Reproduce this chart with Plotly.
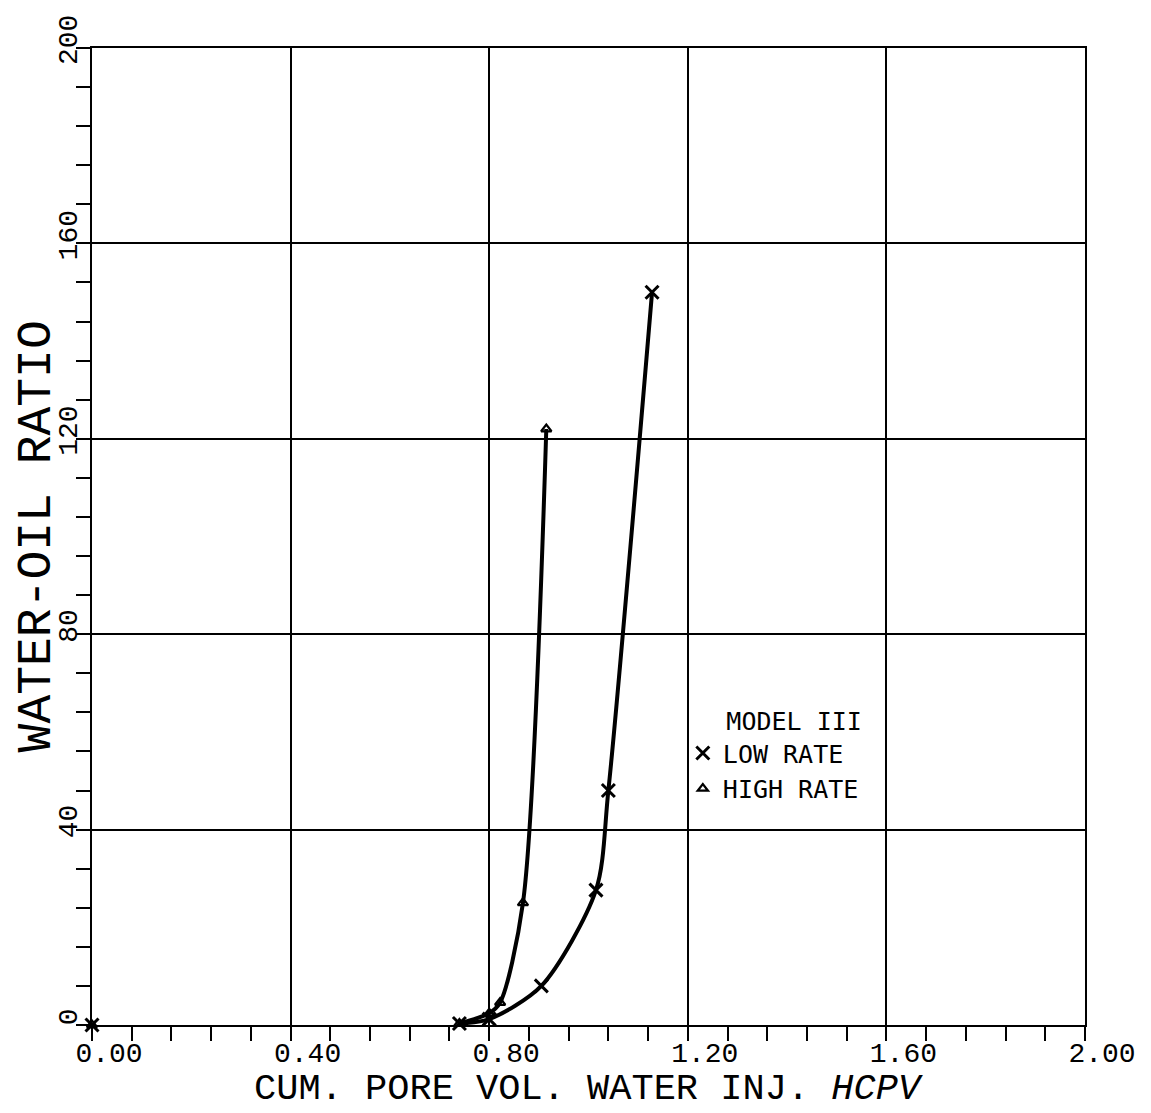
import plotly.graph_objects as go

# ---- data ----
low_rate_x = [0.00, 0.74, 0.80, 0.905, 1.015, 1.04, 1.128]
low_rate_y = [0.0, 0.3, 1.2, 8.0, 27.6, 48.0, 150.0]

high_rate_x = [0.00, 0.74, 0.80, 0.822, 0.868, 0.915]
high_rate_y = [0.0, 0.3, 2.4, 4.6, 25.0, 122.0]

x_title = "CUM. PORE VOL. WATER INJ. <i>HCPV</i>"
y_title = "WATER-OIL RATIO"
legend_title = "MODEL III"
series_names = ["LOW RATE", "HIGH RATE"]

MONO = "Liberation Mono"
LEG = "DejaVu Sans Mono"

fig = go.Figure()

# curves (drawn from the first non-origin point on)
fig.add_trace(go.Scatter(x=low_rate_x[1:], y=low_rate_y[1:], mode="lines",
                         line=dict(color="black", width=4, shape="spline", smoothing=0.8),
                         showlegend=False, hoverinfo="skip"))
fig.add_trace(go.Scatter(x=high_rate_x[1:], y=high_rate_y[1:], mode="lines",
                         line=dict(color="black", width=4, shape="spline", smoothing=0.8),
                         showlegend=False, hoverinfo="skip"))

# markers
fig.add_trace(go.Scatter(x=low_rate_x, y=low_rate_y, mode="markers", name=series_names[0],
                         marker=dict(symbol="x-thin", size=13, color="black",
                                     line=dict(color="black", width=3)),
                         cliponaxis=False))
fig.add_trace(go.Scatter(x=high_rate_x, y=high_rate_y, mode="markers", name=series_names[1],
                         marker=dict(symbol="triangle-up-open", size=9, color="black",
                                     line=dict(color="black", width=2.2)),
                         cliponaxis=False))

axis_common = dict(
    showgrid=True, gridcolor="black", gridwidth=1.5,
    showline=True, linecolor="black", linewidth=2, mirror=True,
    zeroline=False,
    ticks="outside", ticklen=14, tickwidth=2, tickcolor="black",
    tickfont=dict(family=MONO, size=28, color="black"),
)

fig.update_xaxes(
    range=[0, 2], tick0=0, dtick=0.4, tickformat=".2f",
    minor=dict(tick0=0, dtick=0.08, ticks="outside", ticklen=14, tickwidth=2,
               tickcolor="black", showgrid=False),
    ticklabelshift=17, ticklabelstandoff=-13,
    **axis_common,
)
fig.update_yaxes(
    range=[0, 200], tick0=0, dtick=40, tickformat="d", tickangle=-90,
    minor=dict(tick0=0, dtick=8, ticks="outside", ticklen=14, tickwidth=2,
               tickcolor="black", showgrid=False),
    ticklabelshift=-4, ticklabelstandoff=-12,
    **axis_common,
)

# axis titles
fig.add_annotation(text=x_title, xref="paper", yref="paper", x=0.5, y=-0.0885,
                   xanchor="center", yanchor="bottom", showarrow=False, borderpad=0,
                   font=dict(family=MONO, size=37, color="black"))
fig.add_annotation(text=y_title, xref="paper", yref="paper", x=-0.0555, y=0.5,
                   xanchor="center", yanchor="middle", textangle=-90, showarrow=False,
                   font=dict(family=MONO, size=48, color="black"))

fig.update_layout(
    width=1151, height=1113,
    margin=dict(l=92, r=66, t=48, b=88, autoexpand=False),
    paper_bgcolor="white", plot_bgcolor="white",
    font=dict(family=MONO, color="black"),
    legend=dict(
        x=0.595, y=0.335, xanchor="left", yanchor="top",
        bgcolor="rgba(0,0,0,0)", borderwidth=0,
        font=dict(family=LEG, size=25, color="black"),
        title=dict(text=legend_title, side="top right",
                   font=dict(family=LEG, size=25, color="black")),
        itemwidth=30, tracegroupgap=0,
    ),
)

fig.write_html("out.html")
